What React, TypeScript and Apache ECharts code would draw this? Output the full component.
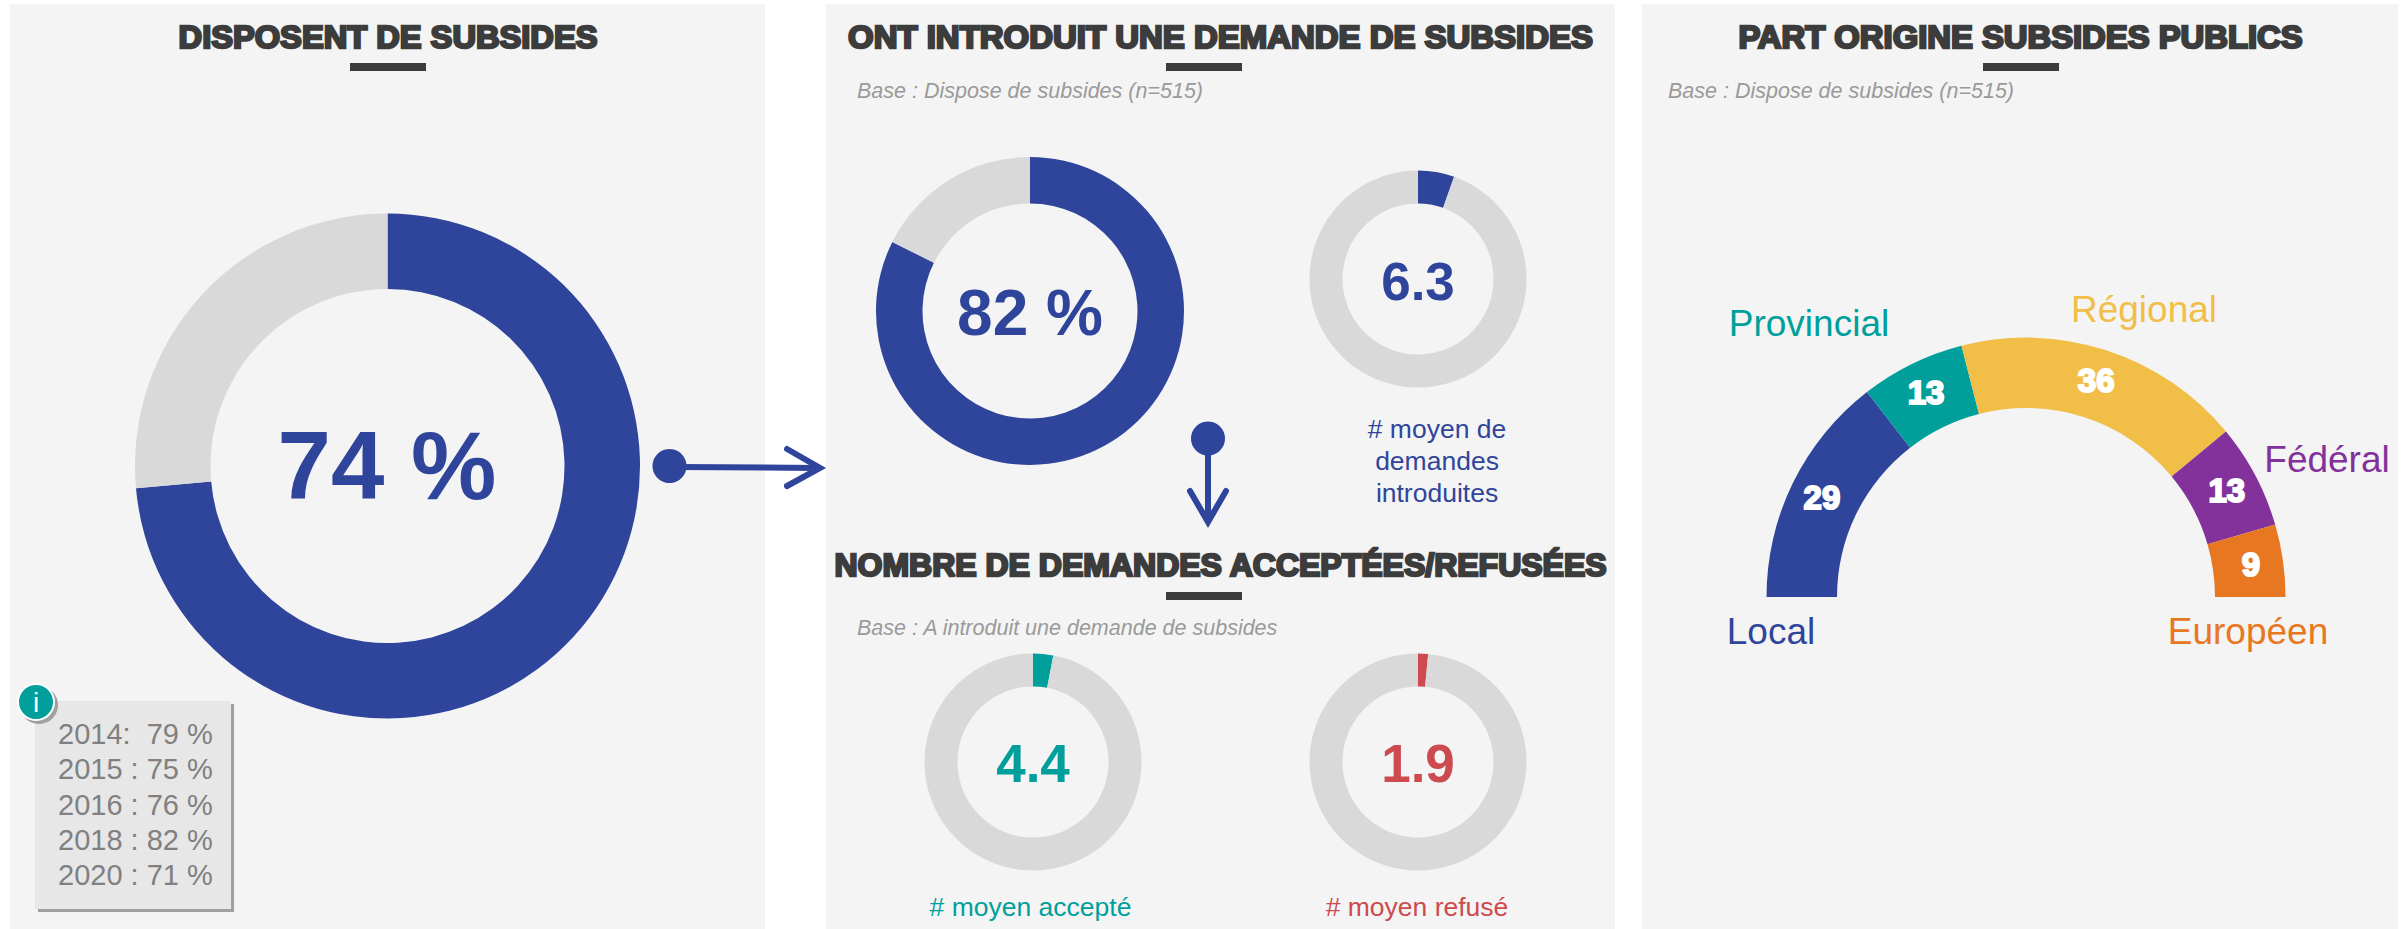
import React, { useEffect, useRef } from "react";
import * as echarts from "echarts";

const NAVY = "#2F459B", TEAL = "#009F9C", YELLOW = "#F1BE48", PURPLE = "#82329A", ORANGE = "#E87722", RED = "#CD4A4F";
const GRAY = "#D9D9D9", PANEL = "#F4F4F4", DARK = "#3C3C3C", BASE = "#9A9A9A";
const FONT = "Liberation Sans";

const disposent = [73.6, 26.4];
const disposentLabel = "74 %";
const introduit = [82.4, 17.6];
const introduitLabel = "82 %";
const moyenShares = [5.4, 3.0, 1.5];
const moyenLabels = ["6.3", "4.4", "1.9"];
const origineNames = ["Local", "Provincial", "Régional", "Fédéral", "Européen"];
const origineValues = [29, 13, 36, 13, 9];
const origineColors = [NAVY, TEAL, YELLOW, PURPLE, ORANGE];
const history = ["2014:  79 %", "2015 : 75 %", "2016 : 76 %", "2018 : 82 %", "2020 : 71 %"];

function ring(values: number[], color: string, cx: number, cy: number, outer: number, inner: number) {
  return {
    type: "pie", silent: true, startAngle: 90, center: [cx, cy], radius: [inner, outer],
    label: { show: false }, labelLine: { show: false },
    data: [
      { value: values[0], itemStyle: { color } },
      { value: values[1], itemStyle: { color: GRAY } },
    ],
  };
}

function txt(text: string, x: number, y: number, fontSize: number, fill: string, extra: any = {}, sx = 1) {
  const { stroke, lineWidth, ...rest } = extra;
  return {
    type: "text", x, y, scaleX: sx, silent: true,
    style: { text, fill, fontSize, fontFamily: FONT, textAlign: "center", textVerticalAlign: "middle", stroke, lineWidth, ...rest },
  };
}
const title = (text: string, x: number, y: number, sx: number) =>
  txt(text, x, y, 32, DARK, { fontWeight: "bold", stroke: DARK, lineWidth: 2.4 }, sx);
const base = (text: string, x: number, y: number) =>
  txt(text, x, y, 21.5, BASE, { fontStyle: "italic", textAlign: "left" });
const rect = (x: number, y: number, width: number, height: number, fill: string) => ({
  type: "rect", silent: true, shape: { x, y, width, height }, style: { fill },
});
const arrowLine = (points: number[][]) => ({
  type: "polyline", silent: true, shape: { points },
  style: { stroke: NAVY, lineWidth: 6, fill: "none", lineCap: "round", lineJoin: "miter" },
});
const dot = (cx: number, cy: number) => ({
  type: "circle", silent: true, shape: { cx, cy, r: 17 }, style: { fill: NAVY },
});

export default function App() {
  const ref = useRef<HTMLDivElement>(null);
  useEffect(() => {
    const chart = echarts.init(ref.current!, null, { renderer: "svg" });
    const namePos = [[1771, 631], [1809, 323], [2144, 309], [2327, 459], [2248, 631]];
    chart.setOption({
      animation: false,
      backgroundColor: "#FFFFFF",
      series: [
        ring(disposent, NAVY, 387.5, 466, 252.5, 177),
        ring(introduit, NAVY, 1030, 311, 154, 107.5),
        ring([moyenShares[0], 100 - moyenShares[0]], NAVY, 1418, 279, 108.5, 75.5),
        ring([moyenShares[1], 100 - moyenShares[1]], TEAL, 1033, 762, 108.5, 75.5),
        ring([moyenShares[2], 100 - moyenShares[2]], RED, 1418, 762, 108.5, 75.5),
        {
          type: "pie", silent: true, startAngle: 180, endAngle: 0, center: [2026, 597], radius: [189, 259.5],
          labelLine: { show: false },
          label: {
            show: true, position: "inside", formatter: "{c}", color: "#FFFFFF", fontFamily: FONT,
            fontWeight: "bold", fontSize: 33, textBorderColor: "#FFFFFF", textBorderWidth: 2, padding: [10, 0, 0, 0],
          },
          data: origineValues.map((value, i) => ({ name: origineNames[i], value, itemStyle: { color: origineColors[i] } })),
        },
      ],
      graphic: [
        rect(10, 4, 755, 925, PANEL),
        rect(826, 4, 789, 925, PANEL),
        rect(1642, 4, 756, 925, PANEL),
        title("DISPOSENT DE SUBSIDES", 388, 37, 1.02),
        rect(350, 63, 76, 8, DARK),
        title("ONT INTRODUIT UNE DEMANDE DE SUBSIDES", 1220.5, 37, 1.03),
        rect(1166, 63, 76, 8, DARK),
        base("Base : Dispose de subsides (n=515)", 857, 91),
        title("NOMBRE DE DEMANDES ACCEPTÉES/REFUSÉES", 1220.5, 565, 1.0),
        rect(1166, 592, 76, 8, DARK),
        base("Base : A introduit une demande de subsides", 857, 628),
        title("PART ORIGINE SUBSIDES PUBLICS", 2020.5, 37, 1.025),
        rect(1983, 63, 76, 8, DARK),
        base("Base : Dispose de subsides (n=515)", 1668, 91),

        txt(disposentLabel, 387, 465, 96, NAVY, { fontWeight: "bold" }),
        txt(introduitLabel, 1030, 313, 64, NAVY, { fontWeight: "bold" }),
        txt(moyenLabels[0], 1418, 281, 53, NAVY, { fontWeight: "bold" }),
        txt(moyenLabels[1], 1033, 763, 53, TEAL, { fontWeight: "bold" }),
        txt(moyenLabels[2], 1418, 763, 53, RED, { fontWeight: "bold" }),
        txt("# moyen de", 1437, 429, 26.5, NAVY),
        txt("demandes", 1437, 461, 26.5, NAVY),
        txt("introduites", 1437, 493, 26.5, NAVY),
        txt("# moyen accepté", 1030.5, 907, 26.5, TEAL),
        txt("# moyen refusé", 1417, 907, 26.5, RED),

        ...origineNames.map((n, i) => txt(n, namePos[i][0], namePos[i][1], 37, origineColors[i])),

        dot(669.5, 466),
        arrowLine([[680, 467], [818, 468]]),
        arrowLine([[787, 449], [820, 468], [787, 486]]),
        dot(1208, 438.5),
        arrowLine([[1208, 450], [1208, 520]]),
        arrowLine([[1190, 491], [1208, 522], [1226, 491]]),

        rect(38, 704, 196, 208, "#A0A0A0"),
        rect(35, 701, 196, 208, "#E7E7E7"),
        ...history.map((t, i) => txt(t, 58, 734 + i * 35.25, 29, "#808080", { textAlign: "left" })),
        { type: "circle", silent: true, shape: { cx: 39, cy: 705, r: 19 }, style: { fill: "#A0A0A0" } },
        { type: "circle", silent: true, shape: { cx: 36, cy: 702, r: 19 }, style: { fill: "#FFFFFF" } },
        { type: "circle", silent: true, shape: { cx: 36, cy: 702, r: 17 }, style: { fill: TEAL } },
        txt("i", 36, 702, 28, "#FFFFFF"),
      ],
    });
    return () => chart.dispose();
  }, []);
  return <div ref={ref} style={{ position: "fixed", left: 0, top: 0, width: 2407, height: 929 }} />;
}
